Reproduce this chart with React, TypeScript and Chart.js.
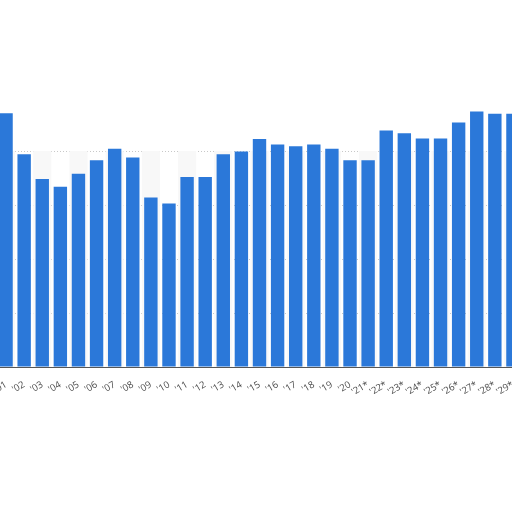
import { useEffect, useRef } from "react";
import { Chart, registerables } from "chart.js";

Chart.register(...registerables);

const years = [
  "'01", "'02", "'03", "'04", "'05", "'06", "'07", "'08", "'09", "'10",
  "'11", "'12", "'13", "'14", "'15", "'16", "'17", "'18", "'19", "'20",
  "'21*", "'22*", "'23*", "'24*", "'25*", "'26*", "'27*", "'28*", "'29*",
];

const values = [
  47.0, 39.4, 34.8, 33.4, 35.8, 38.3, 40.4, 38.8, 31.4, 30.3,
  35.2, 35.2, 39.4, 39.9, 42.2, 41.2, 40.9, 41.2, 40.4, 38.3,
  38.3, 43.8, 43.3, 42.3, 42.3, 45.3, 47.3, 46.9, 46.9,
];

const gridValues = [10, 20, 30, 40];

// faint column bands behind every other category
const bandPlugin = {
  id: "bands",
  beforeDatasetsDraw(chart: any) {
    const { ctx, chartArea, scales } = chart;
    const x = scales.x;
    const y = scales.y;
    const w = x.width / years.length;
    const top = y.getPixelForValue(gridValues[gridValues.length - 1]);
    ctx.save();
    ctx.fillStyle = "#f8f8f8";
    years.forEach((_, i) => {
      if (i % 2 === 0) {
        const cx = x.getPixelForValue(i);
        ctx.fillRect(cx - w / 2, top, w, chartArea.bottom - top);
      }
    });
    ctx.restore();
  },
};

const App = () => {
  const chartRef = useRef<HTMLCanvasElement>(null);
  const chartInstance = useRef<Chart | null>(null);

  useEffect(() => {
    if (!chartRef.current) return;
    const ctx = chartRef.current.getContext("2d");
    if (!ctx) return;

    chartInstance.current = new Chart(ctx, {
      type: "bar",
      data: {
        labels: years,
        datasets: [
          {
            label: "Value",
            data: values,
            backgroundColor: "#2b78d9",
            barPercentage: 0.74,
            categoryPercentage: 1,
          },
        ],
      },
      options: {
        animation: false,
        responsive: true,
        maintainAspectRatio: false,
        layout: { padding: { left: 37, right: 43, top: 0, bottom: 0 } },
        plugins: {
          legend: { display: false },
          tooltip: { enabled: false },
        },
        scales: {
          x: {
            grid: { display: false },
            border: { color: "#555", width: 1 },
            ticks: {
              color: "#4a4a4a",
              font: { family: "Open Sans", size: 9.5 },
              minRotation: 30,
              maxRotation: 30,
              padding: 4,
              autoSkip: false,
            },
            afterFit: (scale: any) => {
              scale.height = 40;
            },
          },
          y: {
            min: 0,
            max: 60,
            ticks: { display: false, stepSize: 10 },
            border: { display: false, dash: [1, 2] },
            grid: {
              drawTicks: false,
              color: (c: any) =>
                gridValues.includes(c.tick?.value) ? "#c8c8c8" : "transparent",
            },
            afterFit: (scale: any) => {
              scale.width = 0;
            },
          },
        },
      },
      plugins: [bandPlugin],
    });

    return () => {
      if (chartInstance.current) {
        chartInstance.current.destroy();
        chartInstance.current = null;
      }
    };
  }, []);

  return (
    <div
      style={{
        position: "fixed",
        inset: 0,
        overflow: "hidden",
        background: "#fff",
      }}
    >
      <div
        style={{
          position: "absolute",
          left: -40,
          top: 43,
          width: 605,
          height: 364,
        }}
      >
        <canvas ref={chartRef} />
      </div>
    </div>
  );
};

export default App;
